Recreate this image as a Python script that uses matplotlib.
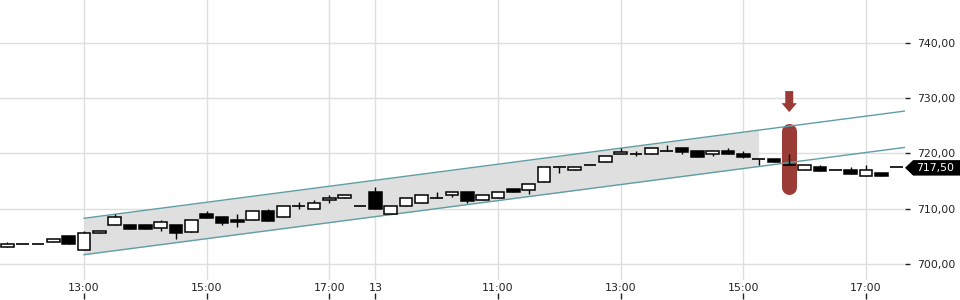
import numpy as np
import matplotlib
matplotlib.use("Agg")
import matplotlib.pyplot as plt
from matplotlib.transforms import blended_transform_factory
from matplotlib.patches import Polygon

# 15-minute candles, two sessions
opens  = [703.0, 703.6, 703.6, 703.95, 705.05, 702.5, 705.55, 707.0, 707.05, 707.05,
          706.45, 707.05, 705.85, 709.1, 708.5, 707.95, 707.9, 709.55, 708.45, 710.55,
          709.9, 711.55, 711.9, 710.55, 713.0, 709.0, 710.45, 711.0, 711.95, 712.45,
          713.0, 711.55, 711.9, 713.6, 713.45, 714.9, 717.55, 716.95, 717.9, 718.4,
          719.85, 719.9, 719.85, 720.45, 721.0, 720.5, 719.85, 720.5, 719.95, 718.95,
          719.0, 717.9, 716.95, 717.5, 717.0, 717.05, 715.85, 716.45, 717.5]
highs  = [704.0, 703.6, 703.6, 704.45, 705.05, 706.0, 705.95, 709.1, 707.05, 707.05,
          708.0, 707.05, 707.9, 709.5, 708.5, 709.05, 709.55, 709.95, 710.5, 711.15,
          711.6, 712.5, 712.5, 710.55, 713.95, 710.45, 711.9, 712.45, 713.0, 713.0,
          713.0, 712.5, 713.0, 713.6, 714.5, 717.55, 717.55, 717.5, 717.9, 719.55,
          720.95, 720.45, 720.95, 721.5, 721.0, 720.5, 720.45, 721.0, 720.45, 718.95,
          719.0, 719.9, 717.85, 717.9, 717.0, 717.5, 717.9, 716.45, 717.5]
lows   = [703.0, 703.6, 703.6, 703.95, 703.6, 702.5, 705.55, 707.0, 706.4, 706.4,
          706.0, 704.6, 705.7, 708.4, 707.1, 706.65, 707.9, 707.85, 708.45, 709.95,
          709.9, 711.1, 711.9, 710.55, 709.9, 709.0, 710.45, 711.0, 711.95, 712.1,
          711.1, 711.55, 711.9, 713.0, 712.6, 714.9, 716.5, 716.95, 717.9, 718.4,
          719.85, 719.6, 719.85, 720.45, 719.9, 719.4, 719.55, 719.85, 719.15, 717.9,
          718.4, 717.9, 716.95, 716.9, 717.0, 716.35, 715.85, 715.85, 717.5]
closes = [703.55, 703.6, 703.6, 704.45, 703.6, 705.6, 705.95, 708.5, 706.4, 706.4,
          707.55, 705.55, 707.9, 708.4, 707.5, 707.55, 709.55, 707.85, 710.5, 710.55,
          711.0, 711.95, 712.5, 710.55, 709.9, 710.45, 711.9, 712.45, 711.95, 713.0,
          711.45, 712.5, 713.0, 713.0, 714.5, 717.55, 717.55, 717.5, 717.9, 719.55,
          720.35, 719.9, 720.95, 720.45, 720.3, 719.4, 720.45, 719.85, 719.45, 718.95,
          718.4, 717.9, 717.85, 716.9, 717.0, 716.35, 717.0, 715.85, 717.5]

xtick_idx = [5, 13, 21, 24, 32, 40, 48, 56]
xtick_labels = ["13:00", "15:00", "17:00", "13", "11:00", "13:00", "15:00", "17:00"]
ytick_vals = [700, 710, 720, 730, 740]

# trend channel (index, price)
chan_x = [5, 58.6]
chan_upper = [708.27, 727.70]
chan_lower = [701.68, 721.12]
fill_end = 49

signal_idx = 51
signal_range = [712.5, 725.5]
last_price = 717.50

fig = plt.figure(figsize=(9.6, 3), dpi=100)
ax = fig.add_axes([0, 20 / 300, 905 / 960, 280 / 300])

n = len(opens)
x = np.arange(n)
o = np.array(opens); h = np.array(highs); l = np.array(lows); c = np.array(closes)
w = 0.82

# grid
for v in ytick_vals:
    ax.axhline(v, color="#dedede", lw=1, zorder=0)
for t in xtick_idx:
    ax.axvline(t, color="#dedede", lw=1, zorder=0)

# channel
ux = np.array(chan_x); uu = np.array(chan_upper); ll = np.array(chan_lower)
slope = (uu[1] - uu[0]) / (ux[1] - ux[0])
fx = np.array([ux[0], fill_end])
ax.fill_between(fx, ll[0] + slope * (fx - ux[0]), uu[0] + slope * (fx - ux[0]),
                color="#dfdfdf", lw=0, zorder=1)

# signal marker
ax.plot([signal_idx, signal_idx], [signal_range[0] + 1.36, signal_range[1] - 1.36],
        color="#9a3b36", lw=10.8, solid_capstyle="round", zorder=2)
arrow = Polygon([[signal_idx - 0.26, 731.3], [signal_idx + 0.26, 731.3],
                 [signal_idx + 0.26, 729.1], [signal_idx + 0.5, 729.1],
                 [signal_idx, 727.5], [signal_idx - 0.5, 729.1],
                 [signal_idx - 0.26, 729.1]], closed=True,
                facecolor="#9a3b36", edgecolor="none", zorder=2)
ax.add_patch(arrow)

ax.plot(ux, uu, color="#5f9ea5", lw=1, zorder=3)
ax.plot(ux, ll, color="#5f9ea5", lw=1, zorder=3)

# candles
ax.vlines(x, l, h, color="black", lw=1, zorder=4)
up = c > o
down = c < o
doji = c == o
ax.bar(x[up], (c - o)[up], bottom=o[up], width=w, color="white",
       edgecolor="black", lw=1.1, zorder=5)
ax.bar(x[down], (o - c)[down], bottom=c[down], width=w, color="black",
       edgecolor="black", lw=1.1, zorder=5)
ax.hlines(o[doji], x[doji] - w / 2, x[doji] + w / 2, color="black", lw=1.2, zorder=5)

ax.set_xlim(-0.48, 58.55)
ax.set_ylim(697.1, 747.78)

for s in ax.spines.values():
    s.set_visible(False)

ax.set_xticks(xtick_idx)
ax.set_xticklabels(xtick_labels)
ax.tick_params(axis="x", length=0, pad=2, labelsize=7.9, labelcolor="#222222")

ax.yaxis.tick_right()
ax.set_yticks(ytick_vals)
ax.set_yticklabels([f"{v:.2f}".replace(".", ",") for v in ytick_vals])
ax.tick_params(axis="y", length=3.6, width=1, color="#222222", pad=5,
               labelsize=7.8, labelcolor="#222222")

# little tick marks under the time labels
sec = ax.secondary_xaxis(-19 / 280)
sec.set_xticks(xtick_idx)
sec.set_xticklabels([""] * len(xtick_idx))
sec.tick_params(axis="x", direction="in", length=4, width=1, color="#222222")
sec.spines["bottom"].set_visible(False)

# last price tag
tr = blended_transform_factory(ax.transAxes, ax.transData)
tag = Polygon([[1.0, last_price - 0.1], [1.009, last_price + 1.3], [1.07, last_price + 1.3],
               [1.07, last_price - 1.5], [1.009, last_price - 1.5]], closed=True,
              transform=tr, facecolor="black", edgecolor="none", clip_on=False, zorder=6)
ax.add_patch(tag)
ax.text(1.0335, last_price - 0.1, f"{last_price:.2f}".replace(".", ","), transform=tr,
        color="white", fontsize=7.8, ha="center", va="center", zorder=7, clip_on=False)

fig.savefig("out.png", dpi=100)
